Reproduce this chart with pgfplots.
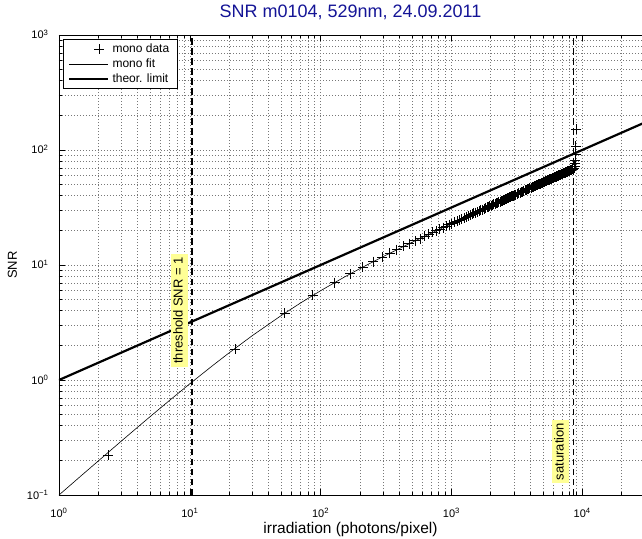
\documentclass[border=0pt]{standalone}
\usepackage{fontspec}
\setmainfont{Liberation Sans}
\usepackage{pgfplots}
\pgfplotsset{compat=1.18}
\definecolor{titleblue}{RGB}{20,20,150}
\definecolor{annoyellow}{RGB}{255,255,150}
\definecolor{gridgray}{RGB}{120,120,120}
\begin{document}
\begin{tikzpicture}
\begin{axis}[
  name=ax,
  scale only axis,
  width=583pt, height=460pt,
  xmode=log, ymode=log,
  xmin=1, xmax=28650, ymin=0.1, ymax=1000,
  axis x line*=box, axis y line*=left,
  ytick pos=left,
  axis line style={black, line width=0.9pt},
  xtick={1,10,100,1000,10000},
  xticklabels={10\textsuperscript{0},10\textsuperscript{1},10\textsuperscript{2},10\textsuperscript{3},10\textsuperscript{4}},
  ytick={0.1,1,10,100,1000},
  yticklabels={10\textsuperscript{−1},10\textsuperscript{0},10\textsuperscript{1},10\textsuperscript{2},10\textsuperscript{3}},
  minor xtick={2,3,4,5,6,7,8,9,20,30,40,50,60,70,80,90,200,300,400,500,600,700,800,900,2000,3000,4000,5000,6000,7000,8000,9000,20000},
  minor ytick={0.2,0.3,0.4,0.5,0.6,0.7,0.8,0.9,2,3,4,5,6,7,8,9,20,30,40,50,60,70,80,90,200,300,400,500,600,700,800,900},
  grid=both,
  major grid style={gridgray, line width=0.6pt, dash pattern=on 0.8pt off 2.2pt},
  minor grid style={gridgray, line width=0.6pt, dash pattern=on 0.8pt off 2.2pt},
  tick style={black, line width=0.6pt},
  major tick length=6pt, minor tick length=3.5pt,
  ticklabel style={font=\fontsize{11}{13}\selectfont},
  xticklabel style={anchor=base, yshift=-22pt},
  yticklabel style={anchor=base east, xshift=-7pt, yshift=-4pt},
  xlabel={irradiation (photons/pixel)},
  xlabel style={font=\fontsize{15.5}{17}\selectfont, at={(axis description cs:0.5,0)}, anchor=base, yshift=-38pt},
  ylabel={SNR},
  ylabel style={font=\fontsize{13}{15}\selectfont, at={(axis description cs:0,0.5)}, anchor=base, yshift=42pt},
  title={SNR m0104, 529nm, 24.09.2011},
  title style={font=\fontsize{18}{20}\selectfont, color=titleblue, at={(axis description cs:0.5,1)}, anchor=base, yshift=11pt},
  legend style={at={(axis description cs:0.0069,0.9913)}, anchor=north west, draw=black, line width=0.6pt,
    font=\fontsize{12}{14}\selectfont, fill=white, inner xsep=5pt, inner ysep=3pt,
    nodes={inner xsep=3pt, inner ysep=1.8pt}, row sep=1pt},
  legend cell align=left,
]
\addplot[only marks, mark=+, mark size=5pt, mark options={line width=0.9pt}, black,
  legend image code/.code={\path[draw=none] (0pt,0pt) -- (39pt,0pt); \draw[black, line width=0.7pt, mark=+, mark size=5pt] plot coordinates {(30pt,0pt)};}]
coordinates {
(2.38,0.222) (22.2,1.86) (53,3.80) (87,5.45) (128,7.04) (168,8.36) (210,9.59) (253,10.71)
(295,11.71) (338,12.66) (383,13.59) (430,14.50) (478,15.37) (527,16.21)
(575,17.00) (623,17.76) (671,18.48) (719,19.18) (767,19.85) (815,20.50) (863,21.14)
(911,21.75) (959,22.35) (1007,22.93) (1055,23.50) (1103,24.05) (1151,24.59) (1199,25.12)
(1247,25.64) (1295,26.15) (1343,26.65) (1391,27.14) (1439,27.62) (1487,28.09)
(1535,28.56) (1583,29.02) (1631,29.47) (1679,29.91) (1727,30.35) (1775,30.78) (1823,31.21)
(1871,31.63) (1919,32.04) (1967,32.45) (2015,32.85) (2063,33.25) (2111,33.65) (2159,34.04)
(2207,34.42) (2255,34.80) (2303,35.18) (2351,35.55) (2399,35.92) (2447,36.29) (2495,36.65)
(2543,37.01) (2591,37.36) (2639,37.71) (2687,38.06) (2735,38.41) (2783,38.75) (2831,39.09)
(2879,39.43) (2927,39.76) (2975,40.09) (3023,40.42) (3103,40.96)
(3183,41.49) (3263,42.02) (3343,42.54) (3423,43.05) (3503,43.56) (3583,44.06) (3663,44.56)
(3743,45.05) (3823,45.53) (3903,46.01) (3983,46.49) (4063,46.96) (4143,47.43) (4223,47.89)
(4303,48.35) (4383,48.80) (4463,49.25) (4543,49.69) (4623,50.13) (4703,50.57) (4783,51.00)
(4863,51.43) (4943,51.86) (5023,52.28) (5103,52.70) (5183,53.12) (5263,53.53) (5343,53.94)
(5423,54.34) (5503,54.75) (5583,55.15) (5663,55.55) (5743,55.94) (5823,56.33) (5903,56.72)
(5983,57.11) (6063,57.49) (6143,57.87) (6223,58.25) (6303,58.63) (6383,59.00) (6463,59.37)
(6543,59.74) (6623,60.11) (6703,60.48) (6783,60.84) (6863,61.20) (6943,61.56) (7023,61.91)
(7103,62.27) (7183,62.62) (7263,62.97) (7343,63.32) (7423,63.67) (7503,64.01) (7583,64.35)
(7663,64.69) (7743,65.03) (7823,65.37) (7903,65.71) (7983,66.04) (8063,66.37) (8143,66.70)
(8223,67.03) (8303,67.36) (8383,67.69) (8463,68.01)
(8650,69.5) (8760,72) (8820,76) (8860,81) (8900,92) (8940,108) (8980,151)
};
\addlegendentry{mono data}
\addplot[black, line width=0.6pt,
  legend image code/.code={\draw[black, line width=0.6pt] (0pt,0pt) -- (39pt,0pt);}]
coordinates {
(1,0.1) (1.5,0.1493) (2,0.198) (3,0.2947) (4,0.3895) (5,0.4827) (7,0.6647) (10,0.927)
(15,1.339) (20,1.724) (30,2.428) (50,3.636) (70,4.662) (100,5.976) (150,7.789) (200,9.307)
(300,11.825) (500,15.754) (700,18.906) (1000,22.843) (1500,28.219) (2000,32.727)
(3000,40.260) (5000,52.159) (7000,61.810) (8550,68.359)
};
\addlegendentry{mono fit}
\addplot[black, line width=2.2pt,
  legend image code/.code={\draw[black, line width=2.2pt] (0pt,0pt) -- (39pt,0pt);}]
coordinates {(1,1) (30000,173.2)};
\addlegendentry{theor. limit}
\addplot[black, line width=1.6pt, dash pattern=on 6.5pt off 3.5pt, forget plot]
  coordinates {(10.35,0.1) (10.35,1000)};
\addplot[black, line width=1.6pt, dash pattern=on 6.5pt off 3.5pt, forget plot]
  coordinates {(8550,0.1) (8550,1000)};
\node[rotate=90, fill=annoyellow, inner xsep=3pt, inner ysep=3pt, text height=0.9em, text depth=0.25em,
  font=\fontsize{13}{15}\selectfont] at (axis cs:8.34,4.02) {threshold SNR = 1};
\node[rotate=90, fill=annoyellow, inner xsep=3pt, inner ysep=3pt, text height=0.9em, text depth=0.25em,
  font=\fontsize{13}{15}\selectfont] at (axis cs:6823,0.239) {saturation};
\end{axis}
\pgfresetboundingbox
\path[use as bounding box] ([xshift=-59pt,yshift=-43pt]ax.south west) rectangle ([yshift=35pt]ax.north east);
\end{tikzpicture}
\end{document}
